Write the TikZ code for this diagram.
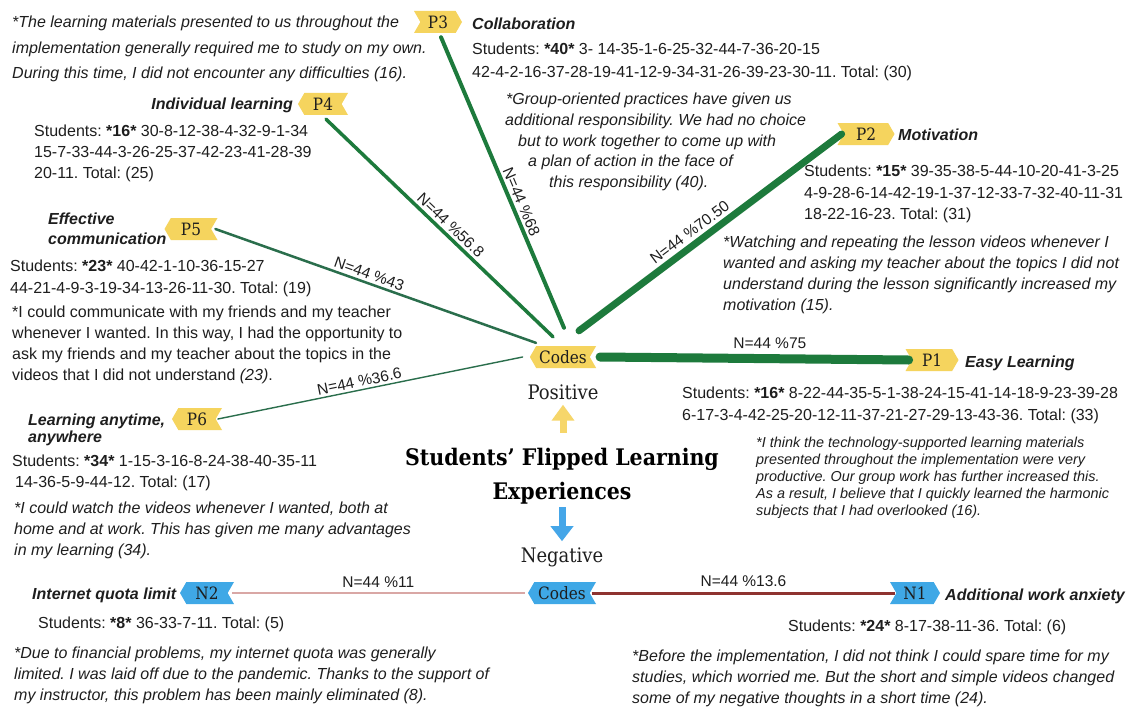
\documentclass[tikz,border=0pt]{standalone}
\usepackage{fontspec}
\setmainfont{Liberation Sans}
\newfontfamily\tagfont{DejaVu Serif Condensed}
\newfontfamily\headserif{DejaVu Serif Condensed}
\usetikzlibrary{shapes.symbols,arrows.meta}
\definecolor{tagyellow}{HTML}{F5D45E}
\definecolor{tagblue}{HTML}{3FA8E6}
\definecolor{arrowyellow}{HTML}{F6D66A}
\definecolor{arrowblue}{HTML}{45A6E8}
\definecolor{linegreen}{HTML}{1D7A3C}
\definecolor{linegreenB}{HTML}{2A6E4C}
\definecolor{linered}{HTML}{8E3330}
\definecolor{linepink}{HTML}{D9A7A5}
\definecolor{inktext}{HTML}{1E1E1E}
\newcommand{\fsz}[2]{\fontsize{#1}{#2}\selectfont}
\frenchspacing
\begin{document}
\frenchspacing
\begin{tikzpicture}[x=1pt,y=1pt,
  tagbase/.style={shape=signal, signal pointer angle=120, inner xsep=3pt, inner ysep=0pt,
    minimum height=22pt, font=\tagfont\fsz{17}{17}, text=inktext},
  tagR/.style={tagbase, signal from=west, signal to=east},
  tagL/.style={tagbase, signal from=east, signal to=west},
  ytag/.style={fill=tagyellow},
  btag/.style={fill=tagblue},
  blk/.style={inner sep=0pt, align=left, anchor=north west, text=inktext},
  head/.style={inner sep=0pt, anchor=base west, text=inktext, font=\fsz{16}{19}\bfseries\itshape},
  lbl/.style={inner sep=1.5pt, font=\fsz{15.5}{16}, text=inktext, sloped},
  conn/.style={line cap=round},
]
\useasboundingbox (0,0) rectangle (1131,-706);
\fill[white] (0,0) rectangle (1131,-706);

% ---------- tags ----------
\node[tagL, ytag, minimum width=66pt] (codesP) at (563,-357) {Codes};
\node[tagL, btag, minimum width=68pt] (codesN) at (562,-593) {Codes};
\node[tagR, ytag, minimum width=53pt] (P1) at (932,-360) {P1};
\node[tagR, ytag, minimum width=57pt] (P2) at (866,-134) {P2};
\node[tagR, ytag, minimum width=48pt] (P3) at (438,-22) {P3};
\node[tagL, ytag, minimum width=50pt] (P4) at (323,-104) {P4};
\node[tagL, ytag, minimum width=53pt] (P5) at (191,-229) {P5};
\node[tagL, ytag, minimum width=50pt] (P6) at (197,-419) {P6};
\node[tagL, btag, minimum width=54pt] (N2) at (207,-593) {N2};
\node[tagR, btag, minimum width=50pt] (N1) at (915,-593) {N1};

% ---------- connectors ----------
\draw[conn, linegreen, line width=9pt] ([xshift=10pt]codesP.east) -- node[lbl, above=4pt, pos=0.55] {N=44 \%75} ([xshift=-3pt]P1.west);
\draw[conn, linegreen, line width=7pt] ([shift={(16,15)}]codesP.north) -- node[lbl, above=2pt, pos=0.45] {N=44 \%70.50} ([xshift=-2pt]P2.west);
\draw[conn, linegreen, line width=4pt] ([shift={(3,-4)}]P3.south) -- node[lbl, above=1pt, pos=0.58] {N=44 \%68} ([shift={(1,18)}]codesP.north);
\draw[conn, linegreen, line width=3.5pt] ([shift={(3,-4)}]P4.south) -- node[lbl, above=1pt, pos=0.52] {N=44 \%56.8} ([shift={(-10,9)}]codesP.north);
\draw[conn, linegreenB, line width=2.5pt] ([xshift=4pt]P5.east) -- node[lbl, above=1pt, pos=0.47] {N=44 \%43} ([shift={(0,3)}]codesP.north west);
\draw[conn, linegreenB, line width=1.4pt] ([xshift=2pt]P6.east) -- node[lbl, above=1pt, pos=0.47] {N=44 \%36.6} ([xshift=-7pt]codesP.west);
\draw[linepink, line width=2.5pt] ([xshift=-3pt]codesN.west) -- node[lbl, above=3pt] {N=44 \%11} ([xshift=4pt]N2.east);
\draw[linered, line width=3pt] ([xshift=2pt]codesN.east) -- node[lbl, above=3pt] {N=44 \%13.6} ([xshift=-1pt]N1.west);

% ---------- centre ----------
\node[inner sep=0pt, font=\headserif\fsz{20}{20}, text=inktext] (pos) at (563,-392) {Positive};
\node[inner sep=0pt, align=center, font=\headserif\bfseries\fsz{22.8}{34}, text=black] (title) at (562,-476) {Students’ Flipped Learning\\Experiences};
\node[inner sep=0pt, font=\headserif\fsz{20}{20}, text=inktext] (neg) at (562,-557) {Negative};
\draw[arrowyellow, line width=7pt, -{Triangle[width=22pt,length=16pt]}] ([yshift=-33pt]pos.south) -- ([yshift=-5pt]pos.south);
\draw[arrowblue, line width=7pt, -{Triangle[width=22pt,length=15pt]}] ([yshift=-3pt]title.south) -- ([yshift=6pt]neg.north);

% ---------- P3 Collaboration ----------
\node[head] (h3) at (472,-29.5) {Collaboration};
\node[blk, font=\fsz{16}{23}] (s3) at (472,-43) {Students: \textbf{*40*} 3- 14-35-1-6-25-32-44-7-36-20-15\\42-4-2-16-37-28-19-41-12-9-34-31-26-39-23-30-11. Total: (30)};
\node[blk, font=\fsz{16}{20.7}\itshape] (q3) at (506,-93) {*Group-oriented practices have given us\\\hspace*{-1pt}additional responsibility. We had no choice\\\hspace*{12pt}but to work together to come up with\\\hspace*{22pt}a plan of action in the face of\\\hspace*{43pt}this responsibility (40).};

% ---------- P4 Individual learning ----------
\node[blk, font=\fsz{16}{25.5}\itshape] (q4) at (12,-16) {*The learning materials presented to us throughout the\\implementation generally required me to study on my own.\\During this time, I did not encounter any difficulties (16).};
\node[head, anchor=base east] (h4) at (293,-109.5) {Individual learning};
\node[blk, font=\fsz{16}{21}] (s4) at (34,-125) {Students: \textbf{*16*} 30-8-12-38-4-32-9-1-34\\15-7-33-44-3-26-25-37-42-23-41-28-39\\20-11. Total: (25)};

% ---------- P5 Effective communication ----------
\node[head, blk, font=\fsz{16}{19.5}\bfseries\itshape] (h5) at (48,-213) {Effective\\communication};
\node[blk, font=\fsz{16}{22}] (s5) at (10,-260) {Students: \textbf{*23*} 40-42-1-10-36-15-27\\44-21-4-9-3-19-34-13-26-11-30. Total: (19)};
\node[blk, font=\fsz{16}{21}] (q5) at (12,-306) {*I could communicate with my friends and my teacher\\whenever I wanted. In this way, I had the opportunity to\\ask my friends and my teacher about the topics in the\\videos that I did not understand \textit{(23)}.};

% ---------- P6 Learning anytime, anywhere ----------
\node[head, blk, font=\fsz{16}{16.5}\bfseries\itshape] (h6) at (28,-414) {Learning anytime,\\anywhere};
\node[blk, font=\fsz{16}{21}] (s6) at (12,-455) {Students: \textbf{*34*} 1-15-3-16-8-24-38-40-35-11\\\hspace*{3pt}14-36-5-9-44-12. Total: (17)};
\node[blk, font=\fsz{16}{21}\itshape] (q6) at (14,-502) {*I could watch the videos whenever I wanted, both at\\home and at work. This has given me many advantages\\in my learning (34).};

% ---------- P1 Easy Learning ----------
\node[head] (h1) at (965,-367) {Easy Learning};
\node[blk, font=\fsz{16}{22}] (s1) at (682,-387) {Students: \textbf{*16*} 8-22-44-35-5-1-38-24-15-41-14-18-9-23-39-28\\6-17-3-4-42-25-20-12-11-37-21-27-29-13-43-36. Total: (33)};
\node[blk, font=\fsz{14.4}{17}\itshape] (q1) at (756,-437) {*I think the technology-supported learning materials\\presented throughout the implementation were very\\productive. Our group work has further increased this.\\As a result, I believe that I quickly learned the harmonic\\subjects that I had overlooked (16).};

% ---------- P2 Motivation ----------
\node[head] (h2) at (898,-140) {Motivation};
\node[blk, font=\fsz{16}{21.5}] (s2) at (804,-165) {Students: \textbf{*15*} 39-35-38-5-44-10-20-41-3-25\\4-9-28-6-14-42-19-1-37-12-33-7-32-40-11-31\\18-22-16-23. Total: (31)};
\node[blk, font=\fsz{16}{21}\itshape] (q2) at (723,-236) {*Watching and repeating the lesson videos whenever I\\wanted and asking my teacher about the topics I did not\\understand during the lesson significantly increased my\\motivation (15).};

% ---------- N2 Internet quota limit ----------
\node[head] (hn2) at (32,-599) {Internet quota limit};
\node[blk, font=\fsz{16}{21}] (sn2) at (38,-617) {Students: \textbf{*8*} 36-33-7-11. Total: (5)};
\node[blk, font=\fsz{16}{21}\itshape] (qn2) at (14,-647) {*Due to financial problems, my internet quota was generally\\limited. I was laid off due to the pandemic. Thanks to the support of\\my instructor, this problem has been mainly eliminated (8).};

% ---------- N1 Additional work anxiety ----------
\node[head] (hn1) at (945,-600) {Additional work anxiety};
\node[blk, font=\fsz{16}{21}] (sn1) at (788,-620) {Students: \textbf{*24*} 8-17-38-11-36. Total: (6)};
\node[blk, font=\fsz{16}{21}\itshape] (qn1) at (632,-650) {*Before the implementation, I did not think I could spare time for my\\studies, which worried me. But the short and simple videos changed\\some of my negative thoughts in a short time (24).};
\end{tikzpicture}
\end{document}
